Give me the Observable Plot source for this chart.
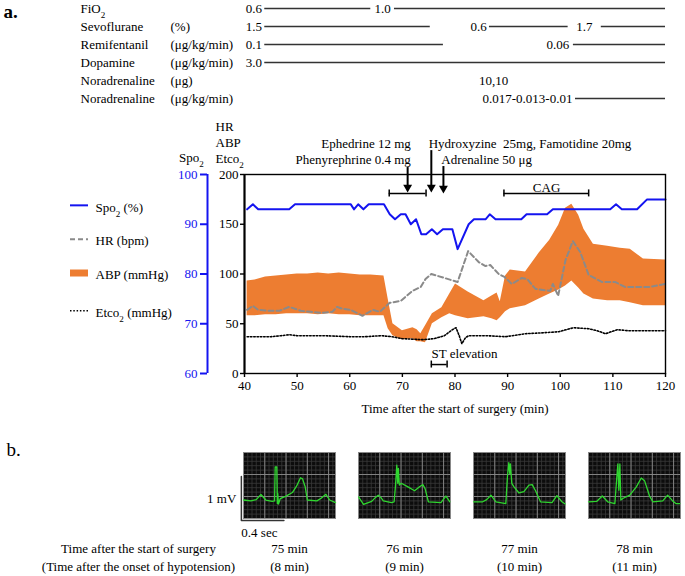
<!DOCTYPE html>
<html><head><meta charset="utf-8">
<script src="https://cdn.jsdelivr.net/npm/d3@7"></script>
<script src="https://cdn.jsdelivr.net/npm/@observablehq/plot@0.6"></script>
<style>
body{margin:0;background:#fff;}
#fig{width:685px;height:576px;overflow:hidden;background:#fff}
#fig svg{display:block;overflow:visible;font-family:'Liberation Serif','Times New Roman',serif !important}
#fig svg text{white-space:pre}
</style></head><body><div id="fig"></div>
<script>
// ---------- drug table ----------
const drugNames = ["FiO₂","Sevoflurane","Remifentanil","Dopamine","Noradrenaline","Noradrenaline"];
const drugUnits = ["","(%)","(μg/kg/min)","(μg/kg/min)","(μg)","(μg/kg/min)"];
const drugSegRow   = [0,0,1,1,1,2,2,3,5];
const drugSegStart = [43.85,68.5,43.85,86.55,107.8,43.85,102.5,43.85,102.9];
const drugSegEnd   = [64.0,120,75.3,101.5,120,77.8,120,120,120];
const doseRow  = [0,0,1,1,1,2,2,3,4,5];
const doseTime = [43.5,68.0,43.5,86.2,106.3,43.5,101.9,43.5,90.3,102.5];
const doseText = ["0.6","1.0","1.5","0.6","1.7","0.1","0.06","3.0","10,10","0.017-0.013-0.01"];

// ---------- vital signs ----------
const spoTime  = [40.5,41.6,42.6,48.5,49.6,60.2,60.8,61.6,62.6,63.6,66.5,67.6,68.6,69.7,70.6,71.6,72.6,73.6,74.5,75.6,76.6,77.7,79.5,80.5,82.6,83.6,85.8,86.6,87.7,92.6,93.6,97.5,98.6,109.5,110.6,111.7,114.6,116.5,120];
const spoValue = [93,94,93,93,94,94,93,94,93,94,94,92,91,92,92,90,91,88,88,89,88,89,89,85,90,91,91,92,91,91,92,92,93,93,94,93,93,95,95];

const hrTime  = [40.5,41.6,42.6,44.7,46.6,48.5,50.7,52.6,54.7,56.7,57.6,58.6,60.2,62.4,64.4,65.7,67.6,69.7,71.9,73.5,74.4,75.5,80.5,82.5,84.5,85.8,86.7,88.3,89.4,90.8,92.7,93.7,95.3,98.1,98.6,99.6,101,102.4,103.8,105.4,107.9,110.4,112.3,117.1,120];
const hrValue = [64,68,64,63,63,67,63,62,61,62,67,65,64,58,64,62,71,73,83,87,95,100,92,123,112,108,109,100,97,90,96,95,85,83,90,78,114,133,122,99,92,92,87,87,90];

const abpTime = [40.5,42,44,46,48,50,52,54,56,58,60,62,64,66.5,67.3,68.2,70,72,72.8,73.5,74.4,75.7,77.5,79,80.1,82.5,85.5,87,88,88.6,89.6,90.5,93.4,96,98,99.7,101,102.2,103.5,104.5,106.3,109,111.4,113.3,115.8,120];
const abpHigh = [93,94,97,98,99,100,100,101,100,101,100,99,99,98,75,50,43,46,44,40,48,60,66,80,90,82,73,78,81,72,98,104,102,121,134,149,166,170,159,145,130,128,126,125,115,114];
const abpLow  = [58,58,59,59,60,60,60,59,60,59,59,58,58,58,45,38,34,35,32,32,31,50,56,60,58,55,57,55,53,56,62,65,68,75,80,84,88,93,86,80,75,73,73,71,68,68];

const etcoTime  = [40.5,45,47,48.5,50,55,60,63,66,68,70,74,76,78,79.5,80.2,80.8,81.3,82,82.6,86,89.6,93.4,97,99.7,102.5,105.4,107,108.6,110.8,113,116,120];
const etcoValue = [37,37,38,39,38,38,37,37,38,37,35,34,35,38,44,46,38,30,36,38,38,37,40,41,42,46,45,43,40,44,43,43,43];

const xTicks = [40,50,60,70,80,90,100,110,120];
const yTicks = [0,50,100,150,200];
const spoTicks = [60,70,80,90,100];
const spoDomain = [60,100];

const legendLabels = ["Spo₂ (%)","HR (bpm)","ABP (mmHg)","Etco₂ (mmHg)"];
const legendLevel = [169,135,101,63];

const drugNoteText  = ["Ephedrine 12 mg","Phenyrephrine 0.4 mg","Hydroxyzine  25mg, Famotidine 20mg","Adrenaline 50 μg"];
const drugNoteTime  = [71.6,71.6,75.0,77.4];
const drugNoteLevel = [231,215,231,215];
const arrowTime = [71.0,75.5,77.8];
const arrowTop  = [207,224,208];
const arrowHead = [187,187,186];
const bracketStart = [67.5,89.3,75.5];
const bracketEnd   = [74.5,105.4,78.5];
const bracketLevel = [181,181,9];
const cagLabel = {text:"CAG", t:97.4, level:186.5};
const stLabel = {text:"ST elevation", t:75.55, level:20};

// ---------- ECG ----------
const panelKeys = ["75","76","77","78"];
const panelSurgery = ["75 min","76 min","77 min","78 min"];
const panelOnset = ["(8 min)","(9 min)","(10 min)","(11 min)"];
const ecgSec = {
  "75":[0,0.07,0.12,0.164,0.21,0.27,0.292,0.298,0.313,0.318,0.322,0.329,0.345,0.40,0.46,0.50,0.536,0.555,0.58,0.60,0.69,0.73,0.775,0.81,0.865],
  "76":[0,0.047,0.124,0.16,0.186,0.21,0.233,0.31,0.335,0.347,0.36,0.369,0.375,0.384,0.403,0.465,0.527,0.574,0.605,0.626,0.657,0.775,0.80,0.822,0.859],
  "77":[0,0.087,0.124,0.164,0.211,0.304,0.319,0.332,0.341,0.347,0.36,0.381,0.428,0.474,0.521,0.552,0.583,0.63,0.738,0.784,0.831,0.862],
  "78":[0,0.078,0.13,0.18,0.248,0.264,0.276,0.285,0.295,0.304,0.326,0.388,0.45,0.496,0.527,0.574,0.605,0.698,0.744,0.791,0.822,0.859]
};
const ecgMv = {
  "75":[0.42,0.40,0.43,0.545,0.42,0.39,0.40,1.17,1.17,0.34,0.57,0.33,0.45,0.51,0.59,0.74,0.925,0.90,0.72,0.42,0.40,0.46,0.55,0.42,0.36],
  "76":[0.49,0.32,0.39,0.48,0.53,0.48,0.40,0.36,0.38,0.72,1.21,0.80,1.14,0.76,0.80,0.72,0.63,0.72,0.77,0.68,0.38,0.36,0.44,0.51,0.38],
  "77":[0.38,0.38,0.43,0.53,0.38,0.34,0.95,1.27,1.02,1.24,0.80,0.72,0.58,0.61,0.76,0.77,0.63,0.38,0.36,0.52,0.38,0.33],
  "78":[0.38,0.39,0.51,0.38,0.34,0.87,1.24,0.64,1.24,0.42,0.46,0.53,0.72,0.92,0.86,0.51,0.38,0.40,0.53,0.40,0.34,0.34]
};
const scaleBarSec = [-0.02,-0.02,0.38];
const scaleBarMv  = [0.955,-0.045,-0.045];

// ---------- build ----------
const FONT = "'Liberation Serif','Times New Roman',serif";
const BLUE = "#1414f0", ORANGE = "#ed7d31", GRAY = "#8a8a8a";
const baseStyle = {fontFamily: FONT, fontSize: "13px", color: "#000", background: "white", overflow: "visible"};
const spoToY = v => (v - spoDomain[0]) * 200 / (spoDomain[1] - spoDomain[0]);

const segs = drugSegRow.map((r,i) => ({r, a: drugSegStart[i], b: drugSegEnd[i]}));
const doses = doseRow.map((r,i) => ({r, t: doseTime[i], s: doseText[i]}));
const rows = d3.range(drugNames.length);

const tablePlot = Plot.plot({
  width: 685, height: 110, marginLeft: 244, marginRight: 20, marginTop: 7, marginBottom: 11,
  style: baseStyle,
  x: {domain: [40,120], axis: null},
  y: {type: "point", domain: rows, padding: 0, axis: null},
  marks: [
    Plot.ruleY(segs, {y: "r", x1: "a", x2: "b", stroke: "#333", strokeWidth: 1.3}),
    Plot.text(doses, {x: "t", y: "r", text: "s", textAnchor: "end", dx: -1}),
    Plot.text(rows, {y: d => d, text: d => drugNames[d], frameAnchor: "left", dx: -164, textAnchor: "start"}),
    Plot.text(rows, {y: d => d, text: d => drugUnits[d], frameAnchor: "left", dx: -74, textAnchor: "start"}),
    Plot.text(["a."], {frameAnchor: "top-left", dx: -241, dy: 4, textAnchor: "start", lineAnchor: "middle", fontSize: 19, fontWeight: "bold"})
  ]
});

const abp = abpTime.map((t,i) => ({t, hi: abpHigh[i], lo: abpLow[i]}));
const hr = hrTime.map((t,i) => ({t, v: hrValue[i]}));
const etco = etcoTime.map((t,i) => ({t, v: etcoValue[i]}));
const spo = spoTime.map((t,i) => ({t, v: spoValue[i]}));
const notes = drugNoteText.map((s,i) => ({s, t: drugNoteTime[i], y: drugNoteLevel[i]}));
const arrows = arrowTime.map((t,i) => ({t, top: arrowTop[i], head: arrowHead[i]}));
const brackets = bracketStart.map((a,i) => ({a, b: bracketEnd[i], y: bracketLevel[i]}));
const caps = brackets.flatMap(d => [{x: d.a, y: d.y}, {x: d.b, y: d.y}]);
const spoTickY = spoTicks.map(spoToY);

const mainPlot = Plot.plot({
  width: 685, height: 310, marginLeft: 244, marginRight: 20, marginTop: 64, marginBottom: 47,
  style: baseStyle,
  x: {domain: [40,120], label: null},
  y: {domain: [0,200], label: null},
  marks: [
    Plot.areaY(abp, {x: "t", y1: "lo", y2: "hi", fill: ORANGE}),
    Plot.line(hr, {x: "t", y: "v", stroke: GRAY, strokeWidth: 2, strokeDasharray: "5,3"}),
    Plot.line(etco, {x: "t", y: "v", stroke: "#000", strokeWidth: 1.6, strokeDasharray: "1.5,1.8"}),
    Plot.line(spo, {x: "t", y: d => spoToY(d.v), stroke: BLUE, strokeWidth: 2}),
    Plot.frame({stroke: "#000", strokeWidth: 1.4}),
    Plot.ruleX([40], {stroke: "#000", strokeWidth: 2}),
    Plot.axisX(xTicks, {tickSize: 4, tickPadding: 3, label: null, strokeWidth: 1.4}),
    Plot.axisY(yTicks, {tickSize: 4, tickPadding: 2, label: null, strokeWidth: 1.4}),
    Plot.ruleX([40], {y1: 0, y2: 200, dx: -37, stroke: BLUE, strokeWidth: 2}),
    Plot.axisY(spoTickY, {dx: -37, tickSize: 7, tickPadding: 3, stroke: BLUE, fill: BLUE, strokeWidth: 2, label: null,
      tickFormat: d => String(spoTicks[spoTickY.indexOf(d)])}),
    Plot.text(["Time after the start of surgery (min)"], {frameAnchor: "bottom", dy: 35, lineAnchor: "middle"}),
    Plot.text(["HR\nABP\nEtco₂"], {frameAnchor: "top-left", dx: -29, dy: -32.5, textAnchor: "start", lineAnchor: "middle", lineHeight: 1.2}),
    Plot.text(["Spo₂"], {frameAnchor: "top-left", dx: -53, dy: -17, textAnchor: "middle", lineAnchor: "middle"}),
    // legend
    Plot.ruleY([legendLevel[0]], {insetLeft: -174, insetRight: 577, stroke: BLUE, strokeWidth: 2}),
    Plot.ruleY([legendLevel[1]], {insetLeft: -174, insetRight: 577, stroke: GRAY, strokeWidth: 2, strokeDasharray: "5,3"}),
    Plot.ruleY([legendLevel[2]], {insetLeft: -174, insetRight: 577, stroke: ORANGE, strokeWidth: 7}),
    Plot.ruleY([legendLevel[3]], {insetLeft: -174, insetRight: 577, stroke: "#000", strokeWidth: 1.6, strokeDasharray: "1.5,1.8"}),
    Plot.text(legendLabels, {y: (d,i) => legendLevel[i], frameAnchor: "left", dx: -149, dy: 2, textAnchor: "start"}),
    // annotations
    Plot.text(notes.slice(0,2), {x: "t", y: "y", text: "s", textAnchor: "end"}),
    Plot.text(notes.slice(2), {x: "t", y: "y", text: "s", textAnchor: "start"}),
    Plot.ruleX(arrows, {x: "t", y1: "top", y2: "head", stroke: "#000", strokeWidth: 2}),
    Plot.dot(arrows, {x: "t", y: "head", symbol: "triangle", rotate: 180, r: 3.3, fill: "#000", stroke: null}),
    Plot.ruleY(brackets, {y: "y", x1: "a", x2: "b", stroke: "#000", strokeWidth: 1.5}),
    Plot.ruleX(caps, {x: "x", y1: "y", y2: "y", insetTop: -3.5, insetBottom: -3.5, stroke: "#000", strokeWidth: 1.5}),
    Plot.text([cagLabel], {x: "t", y: "level", text: "text"}),
    Plot.text([stLabel], {x: "t", y: "level", text: "text", textAnchor: "start"})
  ]
});

const ecg = panelKeys.flatMap(k => ecgSec[k].map((s,i) => ({panel: k, s, mv: ecgMv[k][i]})));
const bar = scaleBarSec.map((s,i) => ({panel: panelKeys[0], s, mv: scaleBarMv[i]}));
const panelText = panelKeys.map((k,i) => ({k, a: panelSurgery[i], b: panelOnset[i]}));
const first = [{k: panelKeys[0]}];

const ecgPlot = Plot.plot({
  width: 685, height: 156, marginLeft: 242, marginRight: 3, marginTop: 32, marginBottom: 58,
  style: baseStyle,
  fx: {domain: panelKeys, paddingInner: 0.198, paddingOuter: 0, axis: null, label: null},
  x: {domain: [0, 0.865], axis: null},
  y: {domain: [0, 1.5], axis: null},
  marks: [
    Plot.frame({fill: "#0c0c0c", stroke: null}),
    Plot.ruleX(d3.range(0.04, 0.86, 0.04), {stroke: "#3a3a3a", strokeWidth: 0.8}),
    Plot.ruleY(d3.range(0.1, 1.5, 0.1), {stroke: "#3a3a3a", strokeWidth: 0.8}),
    Plot.ruleX([0.2, 0.4, 0.6, 0.8], {stroke: "#8a8a8a", strokeWidth: 0.9}),
    Plot.ruleY([0.5, 1.0], {stroke: "#8a8a8a", strokeWidth: 0.9}),
    Plot.frame({stroke: "#888", strokeWidth: 1}),
    Plot.line(ecg, {fx: "panel", x: "s", y: "mv", z: "panel", stroke: "#2fd62f", strokeWidth: 1.3}),
    Plot.line(bar, {fx: "panel", x: "s", y: "mv", stroke: "#333", strokeWidth: 1.5}),
    Plot.text(first, {fx: "k", x: () => scaleBarSec[0], y: () => 0.45, text: () => "1 mV", textAnchor: "end", dx: -5}),
    Plot.text(first, {fx: "k", x: () => scaleBarSec[0], y: () => scaleBarMv[1], text: () => "0.4 sec", textAnchor: "start", dy: 12}),
    Plot.text(first, {fx: "k", text: () => "b.", frameAnchor: "top-left", dx: -237, dy: -3, textAnchor: "start", lineAnchor: "middle", fontSize: 19}),
    Plot.text(first, {fx: "k", text: () => "Time after the start of surgery", frameAnchor: "bottom-left", dx: -105, dy: 30, textAnchor: "middle", lineAnchor: "middle"}),
    Plot.text(first, {fx: "k", text: () => "(Time after the onset of hypotension)", frameAnchor: "bottom-left", dx: -105, dy: 48, textAnchor: "middle", lineAnchor: "middle"}),
    Plot.text(panelText, {fx: "k", text: "a", frameAnchor: "bottom", dy: 30, lineAnchor: "middle"}),
    Plot.text(panelText, {fx: "k", text: "b", frameAnchor: "bottom", dy: 48, lineAnchor: "middle"})
  ]
});

const fig = document.getElementById("fig");
[tablePlot, mainPlot, ecgPlot].forEach(p => fig.appendChild(p));

// render "₂" as a true subscript
const SVGNS = "http://www.w3.org/2000/svg";
fig.querySelectorAll("text, tspan").forEach(el => {
  if (el.children.length === 0 && el.textContent.includes("₂")) {
    const parts = el.textContent.split("₂");
    el.textContent = "";
    parts.forEach((p, i) => {
      if (p) el.appendChild(document.createTextNode(p));
      if (i < parts.length - 1) {
        const t = document.createElementNS(SVGNS, "tspan");
        t.setAttribute("baseline-shift", "sub");
        t.setAttribute("font-size", "70%");
        t.textContent = "2";
        el.appendChild(t);
      }
    });
  }
});
</script>
</body></html>
